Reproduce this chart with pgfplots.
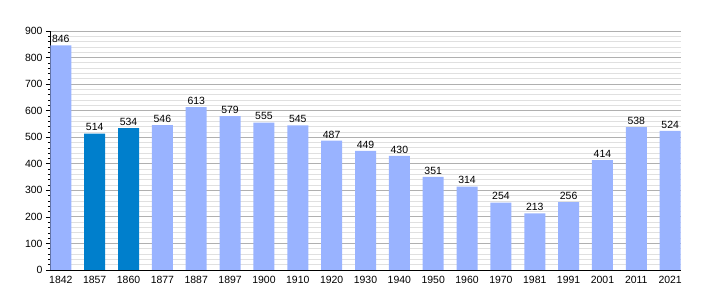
\documentclass[border=0pt]{standalone}
\usepackage{fontspec}
\setmainfont{Liberation Sans}
\usepackage{pgfplots}
\pgfplotsset{compat=1.18}
\definecolor{lightbar}{RGB}{153,179,255}
\definecolor{darkbar}{RGB}{0,127,204}
\definecolor{majgrid}{RGB}{176,176,176}
\definecolor{mingrid}{RGB}{224,224,224}
\begin{document}
\begin{tikzpicture}
\begin{axis}[
  at={(0,0)}, anchor=south west,
  scale only axis, width=631bp, height=239bp,
  xmin=-0.32, xmax=18.32, ymin=0, ymax=900,
  ybar, bar width=21bp, bar shift=0pt,
  axis x line*=bottom, axis y line*=left,
  axis line style={black, line width=0.8pt},
  xtick={0,...,18},
  xticklabels={1842,1857,1860,1877,1887,1897,1900,1910,1920,1930,1940,1950,1960,1970,1981,1991,2001,2011,2021},
  x tick style={draw=none},
  ytick={0,100,...,900},
  minor y tick num=4,
  y tick style={black, line width=0.6pt},
  major tick length=4bp, minor tick length=2bp,
  tick align=outside,
  ymajorgrids, yminorgrids,
  major grid style={majgrid, line width=0.8pt},
  minor grid style={mingrid, line width=0.8pt},
  tick label style={font=\fontsize{10.5}{12}\selectfont},
  /pgf/number format/assume math mode=true,
  nodes near coords,
  every node near coord/.append style={font=\fontsize{10.5}{12}\selectfont, black, yshift=-1bp},
  xticklabel style={yshift=1bp},
]
\addplot[fill=lightbar, draw=none] coordinates {
(0,846) (3,546) (4,613) (5,579) (6,555) (7,545) (8,487) (9,449) (10,430) (11,351) (12,314) (13,254) (14,213) (15,256) (16,414) (17,538) (18,524)};
\addplot[fill=darkbar, draw=none] coordinates {(1,514) (2,534)};
\end{axis}
\path[use as bounding box] (-50bp,-30bp) rectangle (660bp,270bp);
\end{tikzpicture}
\end{document}
